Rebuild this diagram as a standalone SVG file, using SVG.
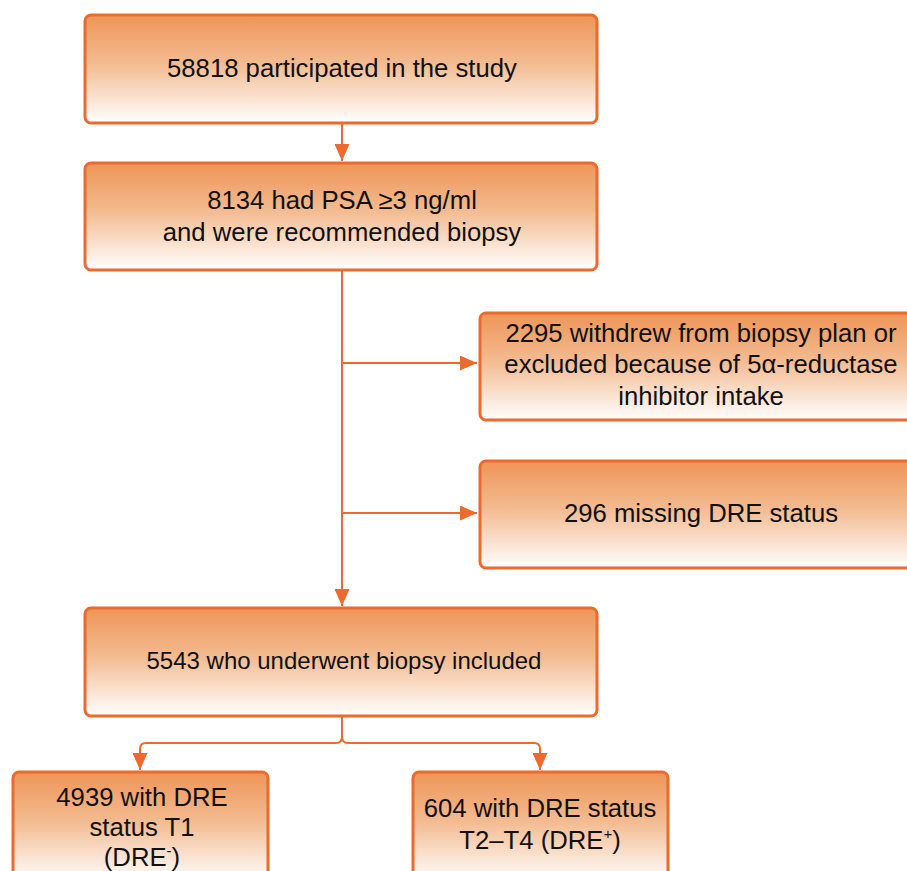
<svg xmlns="http://www.w3.org/2000/svg" width="907" height="871" viewBox="0 0 907 871">
<defs>
<linearGradient id="g" x1="0" y1="0" x2="0" y2="1">
<stop offset="0" stop-color="#EE9557"/>
<stop offset="0.45" stop-color="#F3BB91"/>
<stop offset="1" stop-color="#FFFFFF"/>
</linearGradient>
<marker id="ah2" markerWidth="17" markerHeight="15" refX="17" refY="7.5" orient="auto" markerUnits="userSpaceOnUse" viewBox="0 0 17 15">
<path d="M0,0 L17,7.5 L0,15 z" fill="#EC6A2D"/>
</marker>
<style>
.box{fill:url(#g);stroke:#EC6A2D;stroke-width:3}
.t{font-family:"Liberation Sans",Arial,sans-serif;font-size:25.7px;fill:#111;text-anchor:middle}
.c{fill:none;stroke:#EC6A2D;stroke-width:2}
</style>
</defs>
<g id="connectors">
<path class="c" d="M342,123 V161" marker-end="url(#ah2)"/>
<path class="c" d="M342,270 V606" marker-end="url(#ah2)"/>
<path class="c" d="M342,363 H477" marker-end="url(#ah2)"/>
<path class="c" d="M342,513 H477" marker-end="url(#ah2)"/>
<path class="c" d="M342,716 V737 Q342,743 336,743 H146 Q140,743 140,749 V770" marker-end="url(#ah2)"/>
<path class="c" d="M342,737 Q342,743 348,743 H534 Q540,743 540,749 V770" marker-end="url(#ah2)"/>
</g>
<g id="n1">
<rect class="box" x="85" y="15" width="512" height="108" rx="6"/>
<text class="t" x="342" y="77">58818 participated in the study</text>
</g>
<g id="n2">
<rect class="box" x="85" y="163" width="512" height="107" rx="6"/>
<text class="t" x="342" y="209">8134 had PSA ≥3 ng/ml</text>
<text class="t" x="342" y="241">and were recommended biopsy</text>
</g>
<g id="n3">
<rect class="box" x="480" y="313" width="445" height="107" rx="6"/>
<text class="t" x="701" y="342">2295 withdrew from biopsy plan or</text>
<text class="t" x="701" y="373">excluded because of 5α-reductase</text>
<text class="t" x="701" y="405">inhibitor intake</text>
</g>
<g id="n4">
<rect class="box" x="480" y="461" width="445" height="107" rx="6"/>
<text class="t" x="701" y="522">296 missing DRE status</text>
</g>
<g id="n5">
<rect class="box" x="85" y="608" width="512" height="108" rx="6"/>
<text class="t" x="344" y="669" style="font-size:24px">5543 who underwent biopsy included</text>
</g>
<g id="n6">
<rect class="box" x="13" y="772" width="255" height="110" rx="6"/>
<text class="t" x="142" y="806">4939 with DRE</text>
<text class="t" x="142" y="836">status T1</text>
<text class="t" x="142" y="866">(DRE<tspan font-size="15" dy="-10">-</tspan><tspan dy="10">)</tspan></text>
</g>
<g id="n7">
<rect class="box" x="413" y="772" width="255" height="110" rx="6"/>
<text class="t" x="540" y="817">604 with DRE status</text>
<text class="t" x="540" y="849">T2–T4 (DRE<tspan font-size="15" dy="-10">+</tspan><tspan dy="10">)</tspan></text>
</g>
</svg>
